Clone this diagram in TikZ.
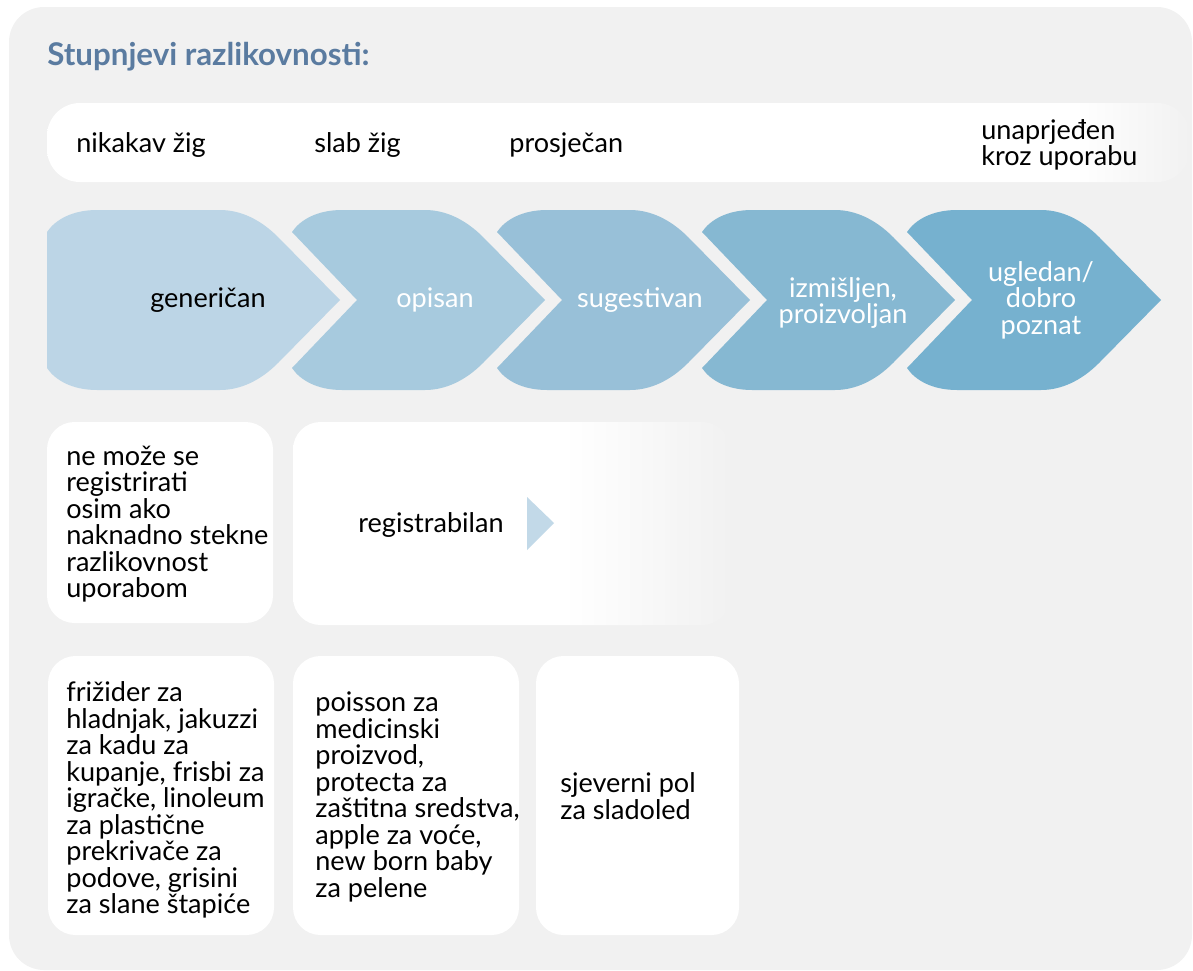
\documentclass[tikz,border=0pt]{standalone}
\usepackage{fontspec}
\setmainfont{Lato}
\definecolor{bggray}{HTML}{F1F1F1}
\definecolor{titleblue}{HTML}{5A7BA0}
\definecolor{cA}{HTML}{BCD5E6}
\definecolor{cB}{HTML}{A7CADE}
\definecolor{cC}{HTML}{98C0D8}
\definecolor{cD}{HTML}{86B8D2}
\definecolor{cE}{HTML}{76B1CF}
\definecolor{tri}{HTML}{C2D9E8}
\pgfdeclarehorizontalshading{barfade}{100bp}{color(0bp)=(white); color(25bp)=(white); color(70bp)=(white); color(75bp)=(bggray); color(100bp)=(bggray)}
\pgfdeclarehorizontalshading{boxfade}{100bp}{color(0bp)=(white); color(25bp)=(white); color(56bp)=(white); color(75bp)=(bggray); color(100bp)=(bggray)}
\newcommand{\chevron}[3]{\fill[#1] (#2+65,300) -- (#2,232) .. controls (#2+8,220) and (#2+25,210) .. (#2+50,210) -- (#3-120,210) .. controls (#3-100,210) and (#3-80,219) .. (#3-62,237) -- (#3,300) -- (#3-62,363) .. controls (#3-80,381) and (#3-100,390) .. (#3-120,390) -- (#2+50,390) .. controls (#2+25,390) and (#2+8,380) .. (#2,368) -- cycle;}

\begin{document}
\begin{tikzpicture}[x=0.02cm, y=-0.02cm, txt/.style={font=\fontsize{15.4}{15.1}\selectfont, inner sep=0pt, align=left, anchor=west}, chevtxt/.style={font=\fontsize{15.4}{15.1}\selectfont, inner sep=0pt, align=center, text=white}, card/.style={fill=white, rounded corners=0.55cm}]
\useasboundingbox (0,0) rectangle (1193,970);
\fill[bggray, rounded corners=0.7cm] (9,7) rectangle (1192,970);
\node[anchor=base west, inner sep=0pt, font=\fontsize{17.8}{20}\selectfont\bfseries, text=titleblue](title) at (47,65) {Stupnjevi razlikovnosti:};
\shade[shading=barfade, rounded corners=0.66cm] (47,103) rectangle (1190,182);
\node[txt](none) at (76,145) {nikakav žig};
\node[txt](weak) at (314,145) {slab žig};
\node[txt](avg) at (509,145) {prosječan};
\node[txt](used) at (981,145) {unaprjeđen\\kroz uporabu};
\fill[cA] (47,368) -- (47,232) .. controls (55,220) and (72,210) .. (97,210) -- (220,210) .. controls (240,210) and (260,219) .. (278,237) -- (340,300) -- (278,363) .. controls (260,381) and (240,390) .. (220,390) -- (97,390) .. controls (72,390) and (55,380) .. (47,368) -- cycle;
\chevron{cB}{292}{545}
\chevron{cC}{497}{750}
\chevron{cD}{702}{955}
\chevron{cE}{907}{1161}
\node[chevtxt, text=black](gen) at (208,300) {generičan};
\node[chevtxt](desc) at (435,300) {opisan};
\node[chevtxt](sug) at (640,300) {sugestivan};
\node[chevtxt](arb) at (843,303) {izmišljen,\\proizvoljan};
\node[chevtxt](fam) at (1041,300) {ugledan/\\dobro\\poznat};
\fill[card] (47,422) rectangle (273,623);
\shade[shading=boxfade, rounded corners=0.55cm] (293,422) rectangle (730,625);
\node[txt](noreg) at (66,524) {ne može se\\registrirati\\osim ako\\naknadno stekne\\razlikovnost\\uporabom};
\node[txt](reg) at (358,525) {registrabilan};
\fill[tri] (527,497) -- (554,523) -- (527,550) -- cycle;
\fill[card] (48,656) rectangle (274,935);
\fill[card] (293,656) rectangle (519,935);
\fill[card] (536,656) rectangle (739,935);
\node[txt](ex1) at (66,800) {frižider za\\hladnjak, jakuzzi\\za kadu za\\kupanje, frisbi za\\igračke, linoleum\\za plastične\\prekrivače za\\podove, grisini\\za slane štapiće};
\node[txt](ex2) at (315,797) {poisson za\\medicinski\\proizvod,\\protecta za\\zaštitna sredstva,\\apple za voće,\\new born baby\\za pelene};
\node[txt](ex3) at (560,796) {sjeverni pol\\za sladoled};
\end{tikzpicture}
\end{document}
